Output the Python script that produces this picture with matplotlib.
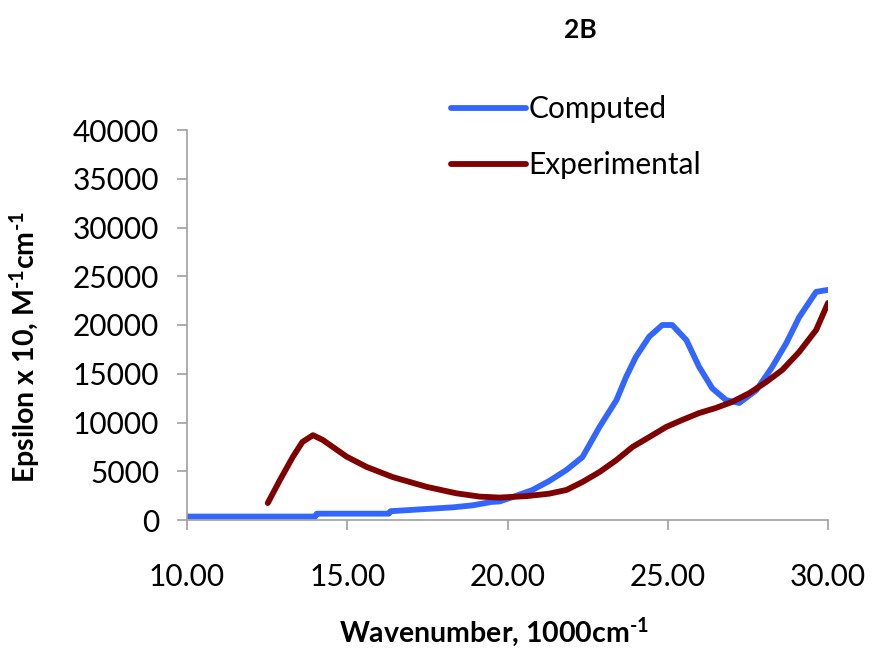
import matplotlib
matplotlib.use("Agg")
import matplotlib.pyplot as plt

plt.rcParams['font.family'] = ['Lato', 'DejaVu Sans']
plt.rcParams['mathtext.fontset'] = 'custom'
plt.rcParams['mathtext.rm'] = 'Lato:bold'
plt.rcParams['mathtext.it'] = 'Lato:bold'
plt.rcParams['mathtext.bf'] = 'Lato:bold'

comp_x = [10.0, 14.0, 14.05, 16.3, 16.35, 18.3, 18.9, 19.5, 19.75, 20.2, 20.78, 21.3, 21.84,
          22.34, 22.87, 23.4, 23.7, 24.0, 24.42, 24.83, 25.14, 25.58, 25.98, 26.39, 26.82,
          27.23, 27.76, 28.26, 28.7, 29.1, 29.63, 30.0]
comp_y = [350, 350, 650, 650, 900, 1300, 1500, 1850, 1900, 2400, 3080, 4000, 5130,
          6460, 9540, 12300, 14670, 16700, 18800, 20000, 20000, 18460, 15700, 13500, 12300,
          12000, 13300, 15700, 18150, 20800, 23400, 23600]

exp_x = [12.52, 12.9, 13.3, 13.6, 13.93, 14.24, 14.98, 15.6, 16.42, 17.48, 18.4, 19.13,
         19.75, 20.6, 21.3, 21.84, 22.34, 22.87, 23.4, 23.9, 24.42, 24.95, 25.45, 25.98,
         26.5, 27.0, 27.54, 28.07, 28.57, 29.1, 29.63, 30.0]
exp_y = [1740, 4100, 6460, 8000, 8700, 8200, 6500, 5450, 4400, 3400, 2740, 2400,
         2300, 2450, 2700, 3080, 3900, 4920, 6150, 7490, 8500, 9540, 10260, 10970,
         11490, 12100, 13000, 14150, 15380, 17230, 19490, 22260]

x_ticks = [10, 15, 20, 25, 30]
y_ticks = [0, 5000, 10000, 15000, 20000, 25000, 30000, 35000, 40000]

fig = plt.figure(figsize=(8.72, 6.5), dpi=100)
ax = fig.add_axes([187/872, 130/650, (828-187)/872, 390/650])

l1, = ax.plot(comp_x, comp_y, color='#3366FF', lw=4.2, label='Computed', solid_capstyle='round')
l2, = ax.plot(exp_x, exp_y, color='#7F0000', lw=4.2, label='Experimental', solid_capstyle='round')

ax.set_xlim(10, 30)
ax.set_ylim(0, 40000)
ax.set_xticks(x_ticks)
ax.set_xticklabels([f"{v:.2f}" for v in x_ticks])
ax.set_yticks(y_ticks)
ax.set_yticklabels([str(v) for v in y_ticks])

for s in ['top', 'right']:
    ax.spines[s].set_visible(False)
for s in ['left', 'bottom']:
    ax.spines[s].set_color('#A0A0A0')
    ax.spines[s].set_linewidth(1.2)
ax.tick_params(axis='both', colors='#A0A0A0', length=7, width=1.2, labelsize=21.5,
               labelcolor='black')
ax.tick_params(axis='x', pad=24)
ax.tick_params(axis='y', pad=13)

ax.set_xlabel(r'Wavenumber, 1000cm$^{\text{-}1}$', fontsize=20.5, fontweight='bold', va='top')
ax.xaxis.set_label_coords((494-187)/641, (520-616)/390)
ax.set_ylabel(r'Epsilon x 10, M$^{\text{-}1}$cm$^{\text{-}1}$', fontsize=20.5, fontweight='bold', va='bottom')
ax.yaxis.set_label_coords((42-187)/641, (520-347)/390)
fig.text(580/872, 1 - 30/650, '2B', fontsize=19, fontweight='bold', ha='center', va='center')

fig.legend(handles=[l1, l2], loc='upper left', bbox_to_anchor=(451/872, 1 - 95/650),
           frameon=False, fontsize=21.5, handlelength=2.5, handletextpad=0.1,
           labelspacing=0.95, borderaxespad=0, borderpad=0)

fig.savefig('out.png', dpi=100)
